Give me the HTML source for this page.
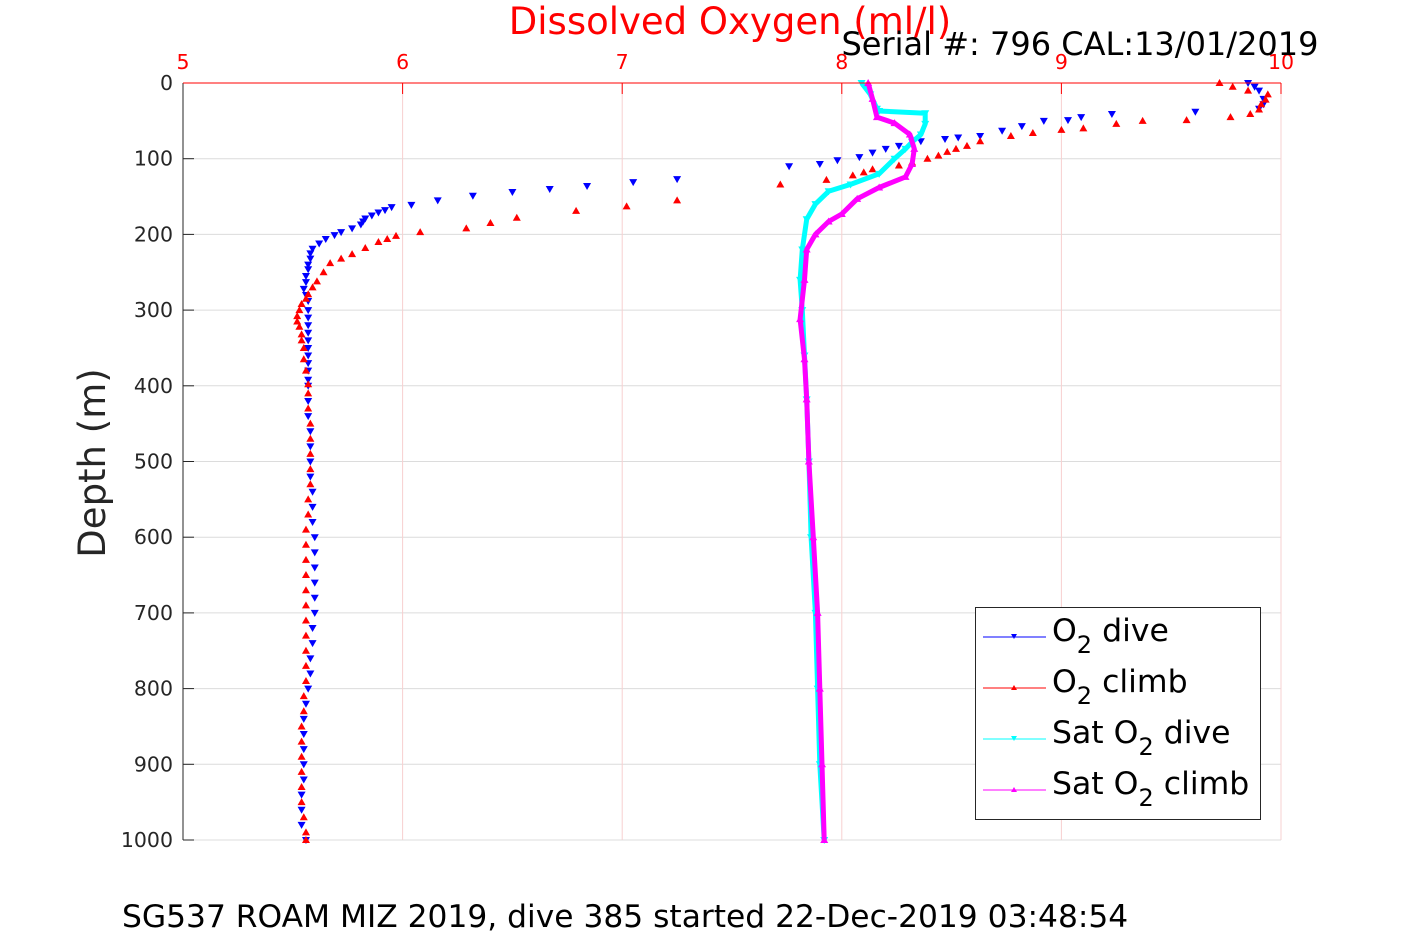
<!DOCTYPE html>
<html><head><meta charset="utf-8"><style>
html,body{margin:0;padding:0;background:#fff;width:1417px;height:945px;overflow:hidden}
text{font-family:"DejaVu Sans","Liberation Sans",sans-serif}
</style></head><body>
<svg id="chart" width="1417" height="945" xmlns="http://www.w3.org/2000/svg">
<g id="grid"></g>
<g id="series"></g>
<g id="axes"></g>
<text x="730" y="34" font-size="37" fill="#ff0000" text-anchor="middle">Dissolved Oxygen (ml/l)</text>
<text x="1080" y="55" font-size="32" fill="#000" text-anchor="middle">Serial #: 796  CAL:13/01/2019</text>
<text transform="translate(105,463) rotate(-90)" font-size="37" fill="#262626" text-anchor="middle">Depth (m)</text>
<text x="122" y="927" font-size="31.3" fill="#000">SG537 ROAM MIZ 2019, dive 385 started 22-Dec-2019 03:48:54</text>
<g>
<rect x="975.5" y="607.5" width="285" height="212" fill="#fff" stroke="#262626" stroke-width="1"/>
<g><line x1="983" y1="637" x2="1046" y2="637" stroke="#0000ff"/><path d="M1011,634 h6 l-3,5z" fill="#0000ff"/><text x="1052" y="641" font-size="31.5">O<tspan font-size="24" dy="12">2</tspan><tspan dy="-12"> dive</tspan></text></g>
<g><line x1="983" y1="688" x2="1046" y2="688" stroke="#ff0000"/><path d="M1011,690 h6 l-3,-5z" fill="#ff0000"/><text x="1052" y="692" font-size="31.5">O<tspan font-size="24" dy="12">2</tspan><tspan dy="-12"> climb</tspan></text></g>
<g><line x1="983" y1="739" x2="1046" y2="739" stroke="#00ffff"/><path d="M1011,736 h6 l-3,5z" fill="#00ffff"/><text x="1052" y="743" font-size="31.5">Sat O<tspan font-size="24" dy="12">2</tspan><tspan dy="-12"> dive</tspan></text></g>
<g><line x1="983" y1="790" x2="1046" y2="790" stroke="#ff00ff"/><path d="M1011,792 h6 l-3,-5z" fill="#ff00ff"/><text x="1052" y="794" font-size="31.5">Sat O<tspan font-size="24" dy="12">2</tspan><tspan dy="-12"> climb</tspan></text></g>
</g>
</svg>
<script>
const xTicks=[5,6,7,8,9,10];
const yTicks=[0,100,200,300,400,500,600,700,800,900,1000];
const o2DiveDepth=[0,5,10,21,28,34,38,41,45,49,50,57,63,70,72,74,77,83,87,92,98,102,107,110,127,131,136,140,144,149,155,161,164,168,171,175,179,183,187,192,197,201,206,212,219,225,232,240,246,255,263,272,280,288,300,310,320,330,340,350,360,370,380,392,400,420,440,460,480,500,520,540,560,580,600,620,640,660,680,700,720,740,760,780,800,820,840,860,880,900,920,940,960,980,1000];
const o2DiveVal=[9.85,9.88,9.9,9.92,9.92,9.9,9.61,9.23,9.09,9.03,8.92,8.82,8.73,8.63,8.53,8.47,8.36,8.26,8.2,8.14,8.08,7.98,7.9,7.76,7.25,7.05,6.84,6.67,6.5,6.32,6.16,6.04,5.95,5.92,5.89,5.86,5.83,5.82,5.81,5.77,5.72,5.69,5.65,5.62,5.59,5.58,5.58,5.57,5.57,5.56,5.56,5.55,5.56,5.57,5.57,5.57,5.57,5.57,5.57,5.57,5.57,5.57,5.57,5.57,5.57,5.57,5.57,5.58,5.58,5.58,5.58,5.59,5.59,5.59,5.6,5.6,5.6,5.6,5.6,5.6,5.59,5.59,5.58,5.58,5.57,5.56,5.55,5.55,5.55,5.55,5.55,5.54,5.54,5.54,5.56];
const o2ClimbDepth=[0,5,10,15,22,28,35,41,45,49,50,54,60,62,66,70,77,83,87,91,96,100,105,109,114,118,122,128,134,155,163,169,178,185,192,197,202,206,210,218,226,232,238,250,262,270,279,285,292,300,308,315,322,332,340,350,365,380,398,410,430,450,470,490,510,530,550,570,590,610,630,650,670,690,710,730,750,770,790,810,830,850,870,890,910,930,950,970,990,1000];
const o2ClimbVal=[9.72,9.78,9.85,9.94,9.93,9.91,9.9,9.86,9.77,9.57,9.37,9.25,9.1,9.0,8.87,8.77,8.63,8.57,8.52,8.48,8.44,8.39,8.32,8.26,8.14,8.1,8.05,7.93,7.72,7.25,7.02,6.79,6.52,6.4,6.29,6.08,5.97,5.93,5.89,5.83,5.77,5.72,5.67,5.64,5.61,5.59,5.57,5.56,5.54,5.53,5.52,5.52,5.53,5.54,5.54,5.55,5.55,5.56,5.57,5.57,5.57,5.58,5.58,5.58,5.58,5.58,5.57,5.57,5.56,5.56,5.56,5.56,5.56,5.56,5.56,5.56,5.56,5.56,5.56,5.55,5.55,5.54,5.54,5.54,5.54,5.54,5.54,5.55,5.56,5.56];
const satDiveDepth=[0,15,34,37,40,54,68,78,87,100,120,134,143,160,180,220,260,300,360,418,500,600,700,800,900,1000];
const satDiveVal=[8.09,8.13,8.16,8.17,8.38,8.38,8.36,8.32,8.29,8.24,8.17,8.04,7.94,7.88,7.84,7.82,7.81,7.82,7.83,7.84,7.85,7.86,7.88,7.89,7.9,7.92];
const satClimbDepth=[0,21,45,53,68,87,107,124,138,153,173,183,200,220,260,312,365,418,500,600,700,800,900,1000];
const satClimbVal=[8.12,8.14,8.16,8.24,8.31,8.33,8.32,8.29,8.17,8.07,8.0,7.94,7.88,7.84,7.83,7.81,7.83,7.84,7.85,7.87,7.89,7.9,7.91,7.92];

const L=183,R=1281,T=83,B=840;
const xs=v=>L+(v-5)/5*(R-L);
const ys=d=>T+d/1000*(B-T);
const NS="http://www.w3.org/2000/svg";
function mk(tag,parent,attrs){const e=document.createElementNS(NS,tag);for(const k in attrs)e.setAttribute(k,attrs[k]);parent.appendChild(e);return e;}
const grid=document.getElementById('grid'),axes=document.getElementById('axes'),ser=document.getElementById('series');
yTicks.forEach(t=>{
  const g=mk('line',grid,{x1:L,x2:R,y1:ys(t),y2:ys(t),stroke:'#dcdcdc','stroke-width':1});
  
  
  const tk=mk('line',axes,{x1:L,x2:L+11,y1:ys(t),y2:ys(t),stroke:'#262626'});
  
  
  const tx=mk('text',axes,{x:L-10,y:ys(t)+7,'font-size':20.5,fill:'#262626','text-anchor':'end'});
  tx.textContent=t;
  
  
});
xTicks.forEach(t=>{
  const g=mk('line',grid,{x1:xs(t),x2:xs(t),y1:T,y2:B,stroke:'#f7d0d0','stroke-width':1});
  
  
  const tk=mk('line',axes,{x1:xs(t),x2:xs(t),y1:T,y2:T+11,stroke:'#ff0000'});
  
  
  const tx=mk('text',axes,{x:xs(t),y:T-14,'font-size':20.5,fill:'#ff0000','text-anchor':'middle'});
  tx.textContent=t;
  
  
});
const yAx=mk('line',axes,{x1:L,x2:L,y1:T,y2:B,stroke:'#262626'});


const xAx=mk('line',axes,{x1:L,x2:R,y1:T,y2:T,stroke:'#ff0000'});



function drawSeries(name,depths,vals,color,down,lw){
  const g=mk('g',ser,{});
  
  
  if(lw>0){
    const pts=depths.map((d,i)=>xs(vals[i]).toFixed(1)+','+ys(d).toFixed(1)).join(' ');
    mk('polyline',g,{points:pts,fill:'none',stroke:color,'stroke-width':lw,'stroke-linejoin':'round'});
  }
  depths.forEach((d,i)=>{
    const x=xs(vals[i]),y=ys(d);
    const p=down?`M${x-4},${y-3} h8 l-4,7z`:`M${x-4},${y+3} h8 l-4,-7z`;
    const m=mk('path',g,{d:p,fill:color});
    
    
  });
}
drawSeries('o2-dive-series',o2DiveDepth,o2DiveVal,'#0000ff',true,0);
drawSeries('o2-climb-series',o2ClimbDepth,o2ClimbVal,'#ff0000',false,0);
drawSeries('sat-o2-dive-series',satDiveDepth,satDiveVal,'#00ffff',true,5);
drawSeries('sat-o2-climb-series',satClimbDepth,satClimbVal,'#ff00ff',false,5);
</script>
</body></html>
